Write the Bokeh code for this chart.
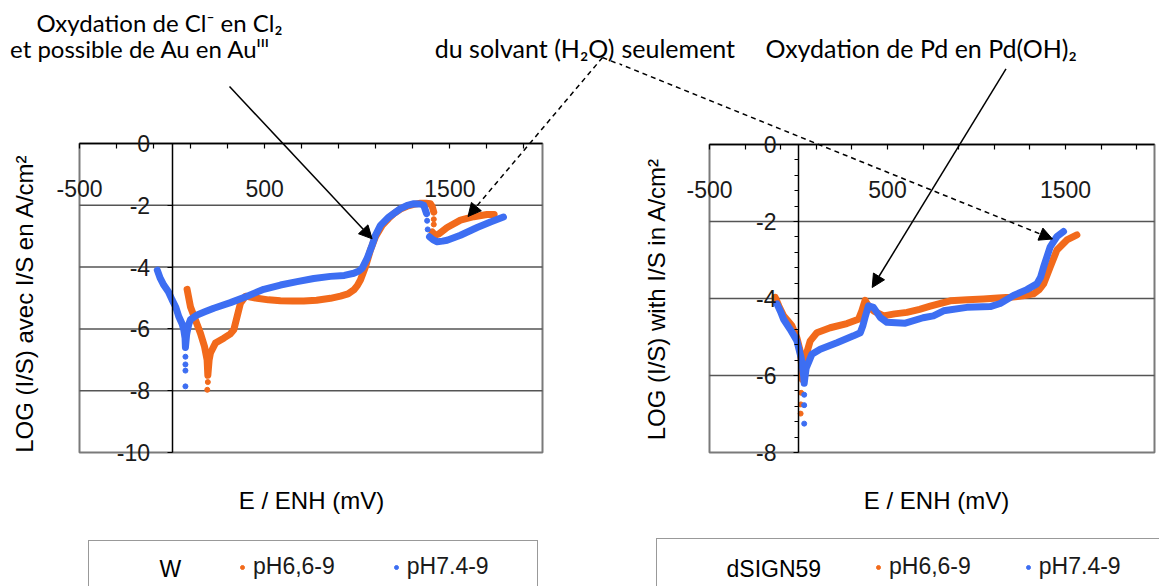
import math
from bokeh.plotting import figure
from bokeh.models import Range1d, FixedTicker, Label, Arrow, NormalHead, Legend, LegendItem
from bokeh.layouts import row
from bokeh.embed import file_html
from bokeh.resources import INLINE

NaN = float("nan")

# ---------------- data (E / ENH in mV, LOG(I/S)) ----------------
# Left chart: W
W_ph66_x = [81, 99, 126, 153, 175, 189, 193, 200, 207, 234, 279, 315, 333, 351, 369, 396, 430, 459,
            520, 585, 650, 711, 780, 855, 909, 950, 981, 1000, 1017, 1044, 1071, 1098, 1134, 1170,
            1197, 1233, 1269, 1305, 1341, 1370, 1395, 1405, 1413, NaN, 1404, 1420, 1440, 1485, 1557,
            1629, 1700, 1739]
W_ph66_y = [-4.72, -5.28, -5.71, -6.14, -6.57, -7.0, -7.5, -7.0, -6.78, -6.46, -6.3, -6.16, -6.03,
            -5.6, -5.17, -4.94, -4.98, -5.01, -5.06, -5.09, -5.1, -5.1, -5.07, -5.01, -4.94, -4.87,
            -4.74, -4.6, -4.42, -3.99, -3.45, -3.02, -2.65, -2.42, -2.27, -2.12, -2.03, -1.97, -1.93,
            -1.93, -1.95, -2.05, -2.22, NaN, -2.86, -2.97, -2.93, -2.72, -2.48, -2.37, -2.3, -2.3]
W_ph66_dots_x = [193, 190, 1413, 1413]
W_ph66_dots_y = [-7.72, -7.97, -2.45, -2.62]

W_ph74_x = [-80, -65, -45, -20, 0, 20, 36, 55, 63, 70, 72, 78, 81, 90, 99, 135, 180, 225, 315, 405,
            495, 585, 675, 765, 855, 930, 981, 1010, 1026, 1053, 1080, 1098, 1125, 1170, 1233, 1270,
            1305, 1340, 1359, 1374, NaN, 1390, 1410, 1431, 1460, 1485, 1557, 1647, 1719, 1789]
W_ph74_y = [-4.1, -4.35, -4.58, -4.8, -5.06, -5.3, -5.6, -5.85, -6.03, -6.3, -6.6, -6.2, -6.1, -5.85,
            -5.7, -5.55, -5.44, -5.33, -5.15, -4.94, -4.72, -4.58, -4.47, -4.37, -4.3, -4.27, -4.2,
            -4.12, -4.04, -3.72, -3.29, -2.97, -2.65, -2.38, -2.11, -2.0, -1.95, -1.96, -2.0, -2.27,
            NaN, -3.02, -3.12, -3.18, -3.16, -3.13, -2.97, -2.72, -2.54, -2.38]
W_ph74_dots_x = [72, 72, 72, 72, 1377, 1380]
W_ph74_dots_y = [-6.9, -7.15, -7.35, -7.86, -2.5, -2.78]

# Right chart: dSIGN59
D_ph66_x = [-131, -110, -84, -60, -37, -9, 10, 19, 22, 30, 38, 66, 103, 178, 272, 337, 356, 374, 393,
            421, 478, 540, 609, 680, 740, 852, 950, 1039, 1120, 1189, 1260, 1320, 1350, 1377, 1414,
            1452, 1508, 1564]
D_ph66_y = [-3.97, -4.2, -4.45, -4.58, -4.71, -5.02, -5.37, -5.81, -6.1, -5.8, -5.54, -5.1, -4.89,
            -4.76, -4.65, -4.54, -4.32, -4.05, -4.19, -4.32, -4.45, -4.4, -4.36, -4.28, -4.2, -4.06,
            -4.03, -4.01, -3.99, -3.97, -3.93, -3.88, -3.78, -3.62, -3.18, -2.74, -2.48, -2.35]
D_ph66_dots_x = [15, 13, 12]
D_ph66_dots_y = [-6.45, -6.75, -6.99]

D_ph74_x = [-121, -100, -84, -47, -9, 15, 28, 32, 36, 43, 75, 122, 216, 309, 347, 362, 374, 393, 421,
            459, 497, 600, 700, 758, 815, 946, 1077, 1133, 1208, 1283, 1339, 1360, 1377, 1414, 1452,
            1489]
D_ph74_y = [-4.14, -4.35, -4.54, -4.8, -5.1, -5.54, -5.98, -6.2, -6.05, -5.81, -5.45, -5.32, -5.15,
            -4.97, -4.89, -4.7, -4.49, -4.19, -4.23, -4.49, -4.62, -4.64, -4.5, -4.45, -4.32, -4.23,
            -4.21, -4.13, -3.92, -3.77, -3.62, -3.45, -3.18, -2.66, -2.39, -2.26]
D_ph74_dots_x = [32, 32, 32]
D_ph74_dots_y = [-6.5, -6.77, -7.25]

X_TICKS = [-500, 500, 1500]
X_MINOR = [-300, -100, 100, 300, 700, 900, 1100, 1300, 1700, 1900]
Y_TICKS_W = [0, -2, -4, -6, -8, -10]
Y_TICKS_D = [0, -2, -4, -6, -8]
Y_MINOR_D = [-0.4, -0.8, -1.2, -1.6, -2.4, -2.8, -3.2, -3.6, -4.4, -4.8, -5.2, -5.6,
             -6.4, -6.8, -7.2, -7.6]

SERIES = ["pH6,6-9", "pH7.4-9"]

ORANGE = "#F26A1B"
BLUE = "#3D6EF2"
TXT = "#1a1a1a"
SANS = "Liberation Sans"
ANN = "Lato"
FS = "23px"

CANVAS_H = 586


class Panel:
    """Maps page pixels of the reference layout onto a figure's data space."""

    def __init__(self, page_left, width, box, x_lim, y_lim):
        self.page_left = page_left
        self.width = width
        bl, br, bt, bb = box          # plot box on the page (left, right, top, bottom)
        self.x0, self.x1 = x_lim
        self.y0, self.y1 = y_lim      # y0 = bottom value, y1 = top value
        self.kx = (self.x1 - self.x0) / (br - bl)
        self.ky = (self.y1 - self.y0) / (bb - bt)
        self.bl, self.bt = bl, bt

    def X(self, px):
        return self.x0 + (px - self.bl) * self.kx

    def Y(self, py):
        return self.y1 - (py - self.bt) * self.ky

    def ranges(self):
        xs = Range1d(self.X(self.page_left), self.X(self.page_left + self.width))
        ys = Range1d(self.Y(CANVAS_H), self.Y(0))
        return xs, ys


def make_fig(panel, yticks, yminor):
    xr, yr = panel.ranges()
    p = figure(width=panel.width, height=CANVAS_H, x_range=xr, y_range=yr,
               output_backend="svg", toolbar_location=None, title=None,
               min_border_left=0, min_border_right=0, min_border_top=0, min_border_bottom=0)
    p.background_fill_color = "white"
    p.border_fill_color = "white"
    p.outline_line_color = None
    p.xgrid.visible = False
    p.ygrid.visible = False
    # plot box and horizontal gridlines
    p.quad(left=[panel.x0], right=[panel.x1], bottom=[panel.y0], top=[panel.y1],
           fill_color=None, line_color="#7a7a7a", line_width=2)
    gl = [t for t in yticks if panel.y0 < t < panel.y1]
    p.segment(x0=[panel.x0] * len(gl), x1=[panel.x1] * len(gl), y0=gl, y1=gl,
              line_color="#555555", line_width=1.5)
    xa = p.xaxis[0]
    ya = p.yaxis[0]
    xa.fixed_location = 0
    ya.fixed_location = 0
    xa.bounds = (panel.x0, panel.x1)
    ya.bounds = (panel.y0, panel.y1)
    for a in (xa, ya):
        a.axis_line_color = "black"
        a.axis_line_width = 1.5
        a.major_tick_line_color = "black"
        a.minor_tick_line_color = "black"
        a.major_tick_line_width = 1.2
        a.minor_tick_line_width = 1.2
        a.major_tick_in = 0
        a.minor_tick_in = 0
        a.major_tick_out = 5
        a.minor_tick_out = 5
        a.major_label_text_font = SANS
        a.major_label_text_font_size = FS
        a.major_label_text_color = TXT
    xa.ticker = FixedTicker(ticks=X_TICKS, minor_ticks=X_MINOR)
    xa.major_label_overrides = {t: str(t) for t in X_TICKS}
    xa.major_label_standoff = 31
    ya.ticker = FixedTicker(ticks=yticks, minor_ticks=yminor)
    ya.major_label_overrides = {t: str(t) for t in yticks}
    ya.major_label_standoff = 17
    if not yminor:
        ya.minor_tick_line_color = None
    else:
        ya.minor_tick_out = 4
    return p


def add_series(p, x66, y66, dx66, dy66, x74, y74, dx74, dy74):
    p.line(x66, y66, line_color=ORANGE, line_width=7, line_join="round", line_cap="round")
    r66 = p.scatter(dx66, dy66, size=5, color=ORANGE)
    p.line(x74, y74, line_color=BLUE, line_width=7, line_join="round", line_cap="round")
    r74 = p.scatter(dx74, dy74, size=5, color=BLUE)
    return r66, r74


def lab(p, panel, px, py, text, align="left", base="alphabetic", font=ANN, size="24px", angle=0,
        level="annotation"):
    p.add_layout(Label(x=panel.X(px), y=panel.Y(py), text=text, text_align=align,
                       text_baseline=base, text_font=font, text_font_size=size,
                       text_color="black", angle=angle, level=level))


def add_legend(p, panel, title, r66, r74, box_left, box_top, box_w, title_left, items_left,
               spacing):
    inv = p.scatter([NaN], [NaN], fill_alpha=0, line_alpha=0)
    box_h = 70
    box = Legend(items=[LegendItem(label=" ", renderers=[inv])], orientation="horizontal",
                 location=(box_left - panel.page_left, CANVAS_H - (box_top + box_h)),
                 padding=0, margin=0, spacing=0,
                 glyph_width=10, glyph_height=box_h, label_standoff=0, label_width=box_w - 10,
                 label_height=24, border_line_color="#333333", border_line_width=1.2,
                 background_fill_alpha=0)
    p.add_layout(box)
    leg = Legend(items=[LegendItem(label=SERIES[0], renderers=[r66]),
                        LegendItem(label=SERIES[1], renderers=[r74])],
                 orientation="horizontal",
                 location=(items_left - panel.page_left, CANVAS_H - 580),
                 padding=0, margin=0,
                 spacing=spacing, glyph_width=10, glyph_height=20, label_standoff=6,
                 label_height=24, border_line_color=None, background_fill_alpha=0,
                 label_text_font=SANS, label_text_font_size=FS, label_text_color=TXT)
    p.add_layout(leg)
    lab(p, panel, title_left, 568, title, base="middle", font=SANS, size=FS, level="overlay")


def arrow(p, panel, a, b, head=True, dash="solid"):
    kw = dict(x_start=panel.X(a[0]), y_start=panel.Y(a[1]), x_end=panel.X(b[0]),
              y_end=panel.Y(b[1]), line_color="black", line_width=1.5, line_dash=dash)
    kw["end"] = NormalHead(size=13, fill_color="black", line_color="black") if head else None
    p.add_layout(Arrow(**kw))


# ---------------- left chart ----------------
P1 = Panel(page_left=0, width=619, box=(79, 542, 143, 452), x_lim=(-500, 2000), y_lim=(-10, 0))
p1 = make_fig(P1, Y_TICKS_W, [])
r66, r74 = add_series(p1, W_ph66_x, W_ph66_y, W_ph66_dots_x, W_ph66_dots_y,
                      W_ph74_x, W_ph74_y, W_ph74_dots_x, W_ph74_dots_y)
add_legend(p1, P1, "W", r66, r74, 88, 542, 448, 159, 237, 56)

lab(p1, P1, 159, 22, "Oxydation de Cl\u207b en Cl\u2082", align="center")
lab(p1, P1, 270, 48, "et possible de Au en Au\u1d35\u1d35\u1d35", align="right")
lab(p1, P1, 614, 47, "du solvant (H\u2082O)", align="right", size="25px")
lab(p1, P1, 24, 303, "LOG (I/S) avec I/S en A/cm\u00b2", align="center", base="middle",
    font=SANS, size="24px", angle=math.pi / 2)
lab(p1, P1, 311, 500, "E / ENH (mV)", align="center", base="middle", font=SANS, size="24px")

arrow(p1, P1, (229, 86), (371.6, 238.3))
arrow(p1, P1, (602, 57), (467.5, 216), dash="5 4")
arrow(p1, P1, (602, 57), (621, 64.6), head=False, dash="5 4")

# ---------------- right chart ----------------
P2 = Panel(page_left=619, width=540, box=(709, 1154, 144, 452), x_lim=(-500, 2000),
           y_lim=(-8, 0))
p2 = make_fig(P2, Y_TICKS_D, Y_MINOR_D)
q66, q74 = add_series(p2, D_ph66_x, D_ph66_y, D_ph66_dots_x, D_ph66_dots_y,
                      D_ph74_x, D_ph74_y, D_ph74_dots_x, D_ph74_dots_y)
add_legend(p2, P2, "dSIGN59", q66, q74, 656, 540, 560, 726, 873, 52)

lab(p2, P2, 621, 47, "seulement", size="25px")
lab(p2, P2, 765, 47, "Oxydation de Pd en Pd(OH)\u2082", size="25px")
lab(p2, P2, 656, 298.5, "LOG (I/S) with I/S in A/cm\u00b2", align="center", base="middle",
    font=SANS, size="24px", angle=math.pi / 2)
lab(p2, P2, 936, 500, "E / ENH (mV)", align="center", base="middle", font=SANS, size="24px")

arrow(p2, P2, (617, 62.6), (1052, 238.5), dash="5 4")
arrow(p2, P2, (1005.5, 68.3), (871.7, 287))

layout = row(p1, p2)
open("out.html", "w").write(file_html(layout, INLINE))
